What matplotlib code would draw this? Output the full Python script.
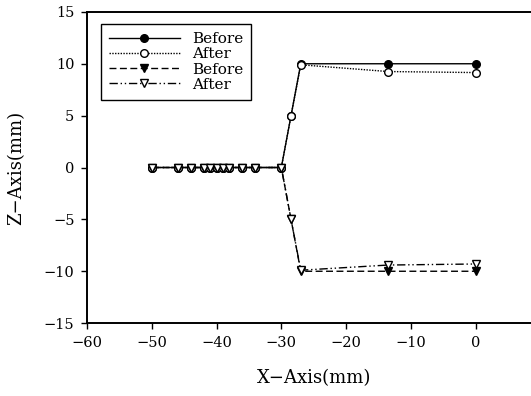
import matplotlib
matplotlib.use("Agg")
import matplotlib.pyplot as plt

plt.rcParams['font.family'] = ['DejaVu Serif']

# shared flat section along the base
base_x = [-50, -46, -44, -42, -41, -40, -39, -38, -36, -34, -30]
base_z = [0] * len(base_x)

# upper edge
up_x = base_x + [-28.5, -27, -13.5, 0]
up_before = base_z + [5, 10, 10, 10]
up_after = base_z + [5, 9.9, 9.25, 9.15]

# lower edge
low_x = base_x + [-28.5, -27, -13.5, 0]
low_before = base_z + [-5, -10, -10, -10]
low_after = base_z + [-5, -9.9, -9.4, -9.3]

x_ticks = [-60, -50, -40, -30, -20, -10, 0]
z_ticks = [-15, -10, -5, 0, 5, 10, 15]


def plot_profiles():
    fig = plt.figure(figsize=(5.31, 3.96), dpi=100)
    ax = fig.add_axes([0.1638, 0.184, 0.854, 0.786])

    ax.plot(up_x, up_before, color='black', lw=1.0, ls='-', marker='o',
            ms=5.5, mfc='black', mec='black', label='Before')
    ax.plot(up_x, up_after, color='black', lw=1.0, ls=(0, (1, 1)), marker='o',
            ms=5.5, mfc='white', mec='black', mew=1.0, label='After')
    ax.plot(low_x, low_before, color='black', lw=1.0, ls=(0, (5, 2.5)), marker='v',
            ms=6, mfc='black', mec='black', label='Before')
    ax.plot(low_x, low_after, color='black', lw=1.0, ls=(0, (6, 2, 1, 2, 1, 2)),
            marker='v', ms=6, mfc='white', mec='black', mew=1.0, label='After')

    ax.set_xlim(-60, 10)
    ax.set_ylim(-15, 15)
    ax.set_xticks(x_ticks)
    ax.set_yticks(z_ticks)
    ax.tick_params(direction='out', length=4, width=1, labelsize=10.5, pad=5)
    for side in ['left', 'bottom', 'top']:
        ax.spines[side].set_linewidth(1.4)
    ax.spines['right'].set_visible(False)

    ax.set_xlabel('X\u2212Axis(mm)', fontsize=13, labelpad=14)
    ax.set_ylabel('Z\u2212Axis(mm)', fontsize=13, labelpad=13)

    leg = ax.legend(loc='upper left', bbox_to_anchor=(0.19, 0.94),
                    bbox_transform=fig.transFigure, fontsize=11,
                    handlelength=4.6, handletextpad=0.8, labelspacing=0.08,
                    borderpad=0.55, borderaxespad=0, fancybox=False, framealpha=1)
    leg.get_frame().set_edgecolor('black')
    leg.get_frame().set_linewidth(1.0)

    fig.savefig('out.png', dpi=100)


plot_profiles()
